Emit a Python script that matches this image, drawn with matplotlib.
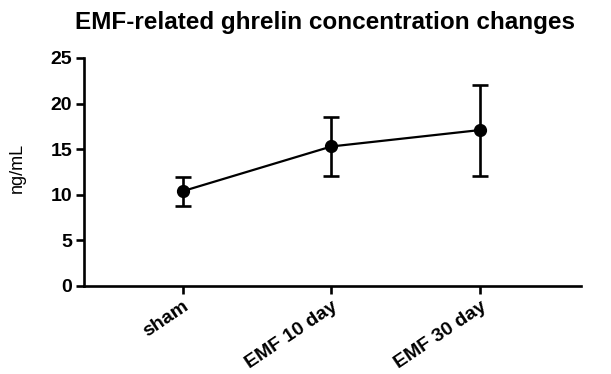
import matplotlib
matplotlib.use("Agg")
import matplotlib.pyplot as plt

categories = ["sham", "EMF 10 day", "EMF 30 day"]
means = [10.4, 15.3, 17.1]
err_low = [8.8, 12.1, 12.1]
err_high = [11.9, 18.5, 22.0]
yticks = [0, 5, 10, 15, 20, 25]

plt.rcParams['font.family'] = ['Liberation Sans', 'DejaVu Sans']

fig = plt.figure(figsize=(6.11, 3.74), dpi=100)
ax = fig.add_axes([84/611, 1-286/374, (581-84)/611, (286-58)/374])

x = list(range(len(categories)))
yerr = [[m - l for m, l in zip(means, err_low)], [h - m for m, h in zip(means, err_high)]]
ax.errorbar(x, means, yerr=yerr, color='black', marker='o', markersize=8.5,
            linewidth=1.6, elinewidth=1.9, capsize=5.5, capthick=1.9)

ax.set_xlim(-0.665, 2.68)
ax.set_ylim(0, 25)
ax.set_yticks(yticks)
ax.set_yticklabels([str(t) for t in yticks], fontsize=14, fontweight='bold')
ax.set_xticks(x)
ax.set_xticklabels(categories, rotation=34, ha='right', rotation_mode='anchor',
                   fontsize=14, fontweight='bold')
ax.set_ylabel("ng/mL", fontsize=13)
ax.yaxis.set_label_coords(-0.118, 0.52)
for s in ['top', 'right']:
    ax.spines[s].set_visible(False)
for s in ['left', 'bottom']:
    ax.spines[s].set_linewidth(1.9)
ax.tick_params(width=1.9, length=5.5, direction='out', pad=3)

fig.text(325/611, 1-22/374, "EMF-related ghrelin concentration changes",
         ha='center', va='center', fontsize=17.5, fontweight='bold')

fig.savefig("out.png", dpi=100)
